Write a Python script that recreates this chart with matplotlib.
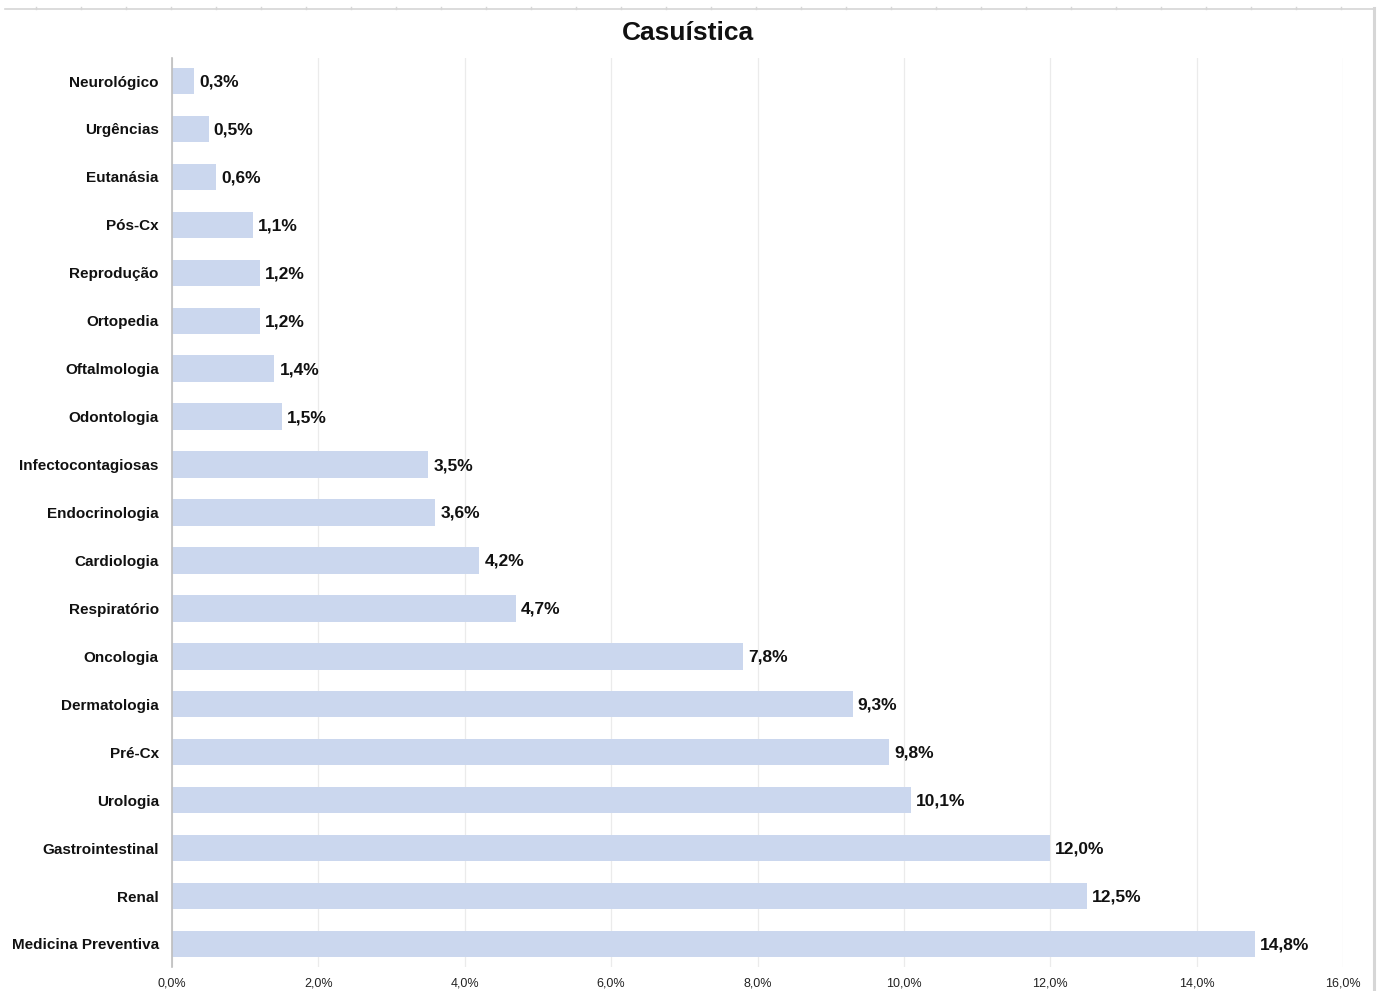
import matplotlib
matplotlib.use("Agg")
import matplotlib.pyplot as plt
from matplotlib import font_manager
from matplotlib.lines import Line2D
from matplotlib.ticker import FuncFormatter, MultipleLocator

categories = [
    "Neurológico", "Urgências", "Eutanásia", "Pós-Cx", "Reprodução",
    "Ortopedia", "Oftalmologia", "Odontologia", "Infectocontagiosas",
    "Endocrinologia", "Cardiologia", "Respiratório", "Oncologia",
    "Dermatologia", "Pré-Cx", "Urologia", "Gastrointestinal", "Renal",
    "Medicina Preventiva",
]
percentages = [
    0.3, 0.5, 0.6, 1.1, 1.2, 1.2, 1.4, 1.5, 3.5, 3.6,
    4.2, 4.7, 7.8, 9.3, 9.8, 10.1, 12.0, 12.5, 14.8,
]
title = "Casuística"

available = {f.name for f in font_manager.fontManager.ttflist}
base_font = "Liberation Sans" if "Liberation Sans" in available else "DejaVu Sans"
narrow_font = "Liberation Sans Narrow" if "Liberation Sans Narrow" in available else base_font

bar_color = "#CBD7EE"
grid_color = "#EBEBEB"

W, H = 1381, 991
fig = plt.figure(figsize=(W / 100, H / 100), dpi=100)
fig.patch.set_facecolor("white")

left, right, top, bottom = 172, 1343, 58, 967
ax = fig.add_axes([left / W, 1 - bottom / H, (right - left) / W, (bottom - top) / H])

positions = list(range(len(categories)))
ax.barh(positions, percentages, height=0.55, color=bar_color, zorder=2)

ax.set_ylim(len(categories) - 0.52, -0.48)
ax.set_xlim(0, 16)
ax.xaxis.set_major_locator(MultipleLocator(2))
ax.xaxis.set_major_formatter(FuncFormatter(lambda v, _: f"{v:.1f}%".replace(".", ",")))
ax.grid(axis="x", color=grid_color, linewidth=0.9, zorder=0)
ax.set_axisbelow(True)

for side in ("top", "right", "bottom"):
    ax.spines[side].set_visible(False)
ax.spines["left"].set_color("#BDBDBD")
ax.spines["left"].set_linewidth(1.2)
ax.spines["left"].set_zorder(3)

ax.tick_params(axis="both", length=0)
ax.tick_params(axis="x", pad=7.5, labelsize=9, labelcolor="#222222")
ax.tick_params(axis="y", pad=9.5)
for lab in ax.get_xticklabels():
    lab.set_fontfamily(base_font)

ax.set_yticks(positions)
ax.set_yticklabels(categories, fontfamily=base_font, fontweight="bold",
                   fontsize=11, color="#111111")

for y, v in zip(positions, percentages):
    ax.text(v + 0.07, y + 0.02, f"{v:.1f}%".replace(".", ","), va="center", ha="left",
            fontfamily=narrow_font, fontweight="bold", fontsize=12.5,
            color="#111111", zorder=4)

fig.text(688 / W, 1 - 33 / H, title, ha="center", va="center",
         fontfamily=base_font, fontweight="bold", fontsize=19, color="#111111")

# thin frame along the top and right edges
frame_color = "#D6D6D6"
fig.add_artist(Line2D([5 / W, 1374 / W], [1 - 9 / H, 1 - 9 / H],
                      transform=fig.transFigure, color=frame_color, linewidth=1.2))
fig.add_artist(Line2D([1373.5 / W, 1373.5 / W], [1 - 8 / H, 0],
                      transform=fig.transFigure, color=frame_color, linewidth=2.2))
x = 36
while x < 1370:
    fig.add_artist(Line2D([x / W, x / W], [1 - 9 / H, 1 - 6.5 / H],
                          transform=fig.transFigure, color=frame_color, linewidth=1))
    x += 45

fig.savefig("out.png", dpi=100, facecolor="white")
